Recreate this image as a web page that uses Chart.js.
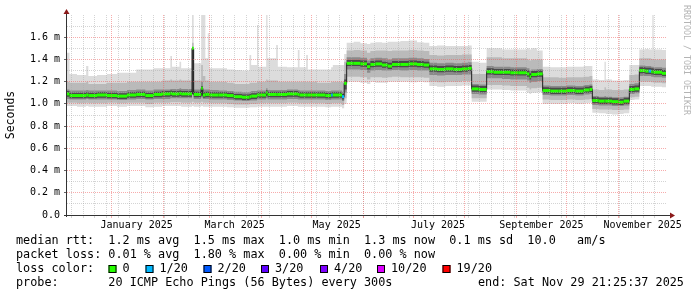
<!DOCTYPE html>
<html>
<head>
<meta charset="utf-8">
<title>SmokePing – last 360 days</title>
<script src="https://cdn.jsdelivr.net/npm/chart.js@4.4.1/dist/chart.umd.min.js"></script>
<style>
  html, body { margin: 0; padding: 0; background: #fff; }
  #wrap { width: 697px; height: 297px; }
</style>
</head>
<body>
<div id="wrap"><canvas id="chart" width="697" height="297"></canvas></div>
<script>
// ============================================
// Values
// x = days since the left edge of the plot, y = round trip in ms
// ============================================

// start of each step; each value holds until the next start (last one until END_DAY)
const days = [0, 1.5, 6, 11.5, 12.8, 18, 24, 30, 36, 41.5,
  47, 52, 57, 62, 63, 67.5, 68.5, 75, 76, 80.5,
  81.5, 83, 84.5, 85.5, 91, 96, 100, 105, 109.5, 110.5,
  114, 114.8, 119.5, 120.3, 125.5, 126.5, 132, 138.5, 139.5, 143.5,
  144.5, 150, 155, 158.5, 159.5, 165, 166.3, 167.8, 172, 176,
  180, 182, 185, 189, 192.4, 195, 200, 205, 210, 214,
  217.4, 222, 227, 232, 237, 240.5, 242.8, 247, 251.8, 256,
  261, 266, 271, 276, 277.5, 278.5, 282, 285.4, 290, 295,
  300, 305, 310, 313.5, 315.2, 319, 322.5, 323.3, 327, 331,
  334, 337.4, 340.5, 343.4, 347, 349, 350.5, 351.2, 352, 357];
const END_DAY = 359.4;

const median = [1.09, 1.075, 1.075, 1.08, 1.075, 1.08, 1.075, 1.07, 1.08, 1.085,
  1.075, 1.085, 1.09, 1.095, 1.09, 1.095, 1.09, 1.50, 1.085, 1.14,
  1.08, 1.085, 1.085, 1.08, 1.08, 1.075, 1.065, 1.06, 1.065, 1.07,
  1.08, 1.08, 1.10, 1.085, 1.085, 1.085, 1.09, 1.085, 1.08, 1.08,
  1.08, 1.08, 1.075, 1.08, 1.08, 1.065, 1.185, 1.365, 1.365, 1.36,
  1.335, 1.355, 1.36, 1.35, 1.34, 1.355, 1.355, 1.36, 1.355, 1.35,
  1.315, 1.31, 1.315, 1.31, 1.315, 1.32, 1.135, 1.13, 1.29, 1.285,
  1.285, 1.28, 1.28, 1.27, 1.245, 1.265, 1.27, 1.12, 1.115, 1.115,
  1.12, 1.115, 1.125, 1.13, 1.03, 1.025, 1.025, 1.025, 1.02, 1.015,
  1.025, 1.13, 1.135, 1.30, 1.295, 1.295, 1.29, 1.29, 1.285, 1.275];

// lost pings (out of 20) per step
const lossCount = [0, 0, 0, 0, 0, 0, 0, 0, 0, 0,
  0, 0, 0, 0, 0, 0, 0, 0, 0, 0,
  0, 0, 0, 0, 0, 0, 0, 0, 0, 0,
  0, 0, 0, 0, 0, 0, 0, 0, 0, 0,
  0, 0, 0, 1, 0, 1, 0, 0, 0, 0,
  0, 0, 0, 0, 0, 0, 0, 0, 0, 0,
  0, 0, 0, 0, 0, 0, 0, 0, 0, 0,
  0, 0, 0, 0, 0, 0, 0, 0, 0, 0,
  0, 0, 0, 0, 0, 0, 0, 0, 0, 0,
  0, 0, 0, 0, 0, 1, 0, 0, 0, 0];

// smoke: outer (1) to core (4) ping spread around the median
const smokeLo1 = [0.98, 0.98, 0.975, 0.98, 0.975, 0.975, 0.98, 0.975, 0.98, 0.98,
  0.97, 0.975, 0.98, 0.98, 0.98, 0.98, 0.975, 0.98, 0.975, 0.98,
  0.975, 0.975, 0.975, 0.975, 0.975, 0.97, 0.965, 0.965, 0.97, 0.97,
  0.975, 0.975, 0.975, 0.975, 0.975, 0.975, 0.98, 0.975, 0.975, 0.975,
  0.975, 0.975, 0.97, 0.975, 0.975, 0.96, 1.0, 1.2, 1.2, 1.19,
  1.18, 1.2, 1.19, 1.19, 1.2, 1.2, 1.2, 1.195, 1.2, 1.195,
  1.16, 1.155, 1.16, 1.16, 1.165, 1.165, 1.02, 1.02, 1.13, 1.13,
  1.125, 1.12, 1.12, 1.1, 1.09, 1.1, 1.105, 1.0, 1.0, 1.0,
  1.005, 1.0, 1.005, 1.01, 0.92, 0.915, 0.915, 0.91, 0.905, 0.91,
  0.915, 1.035, 1.04, 1.16, 1.16, 1.16, 1.155, 1.155, 1.155, 1.15];
const smokeLo2 = [1.01, 1.01, 1.005, 1.01, 1.005, 1.005, 1.01, 1.005, 1.01, 1.01,
  1.0, 1.01, 1.01, 1.015, 1.015, 1.015, 1.01, 1.02, 1.01, 1.02,
  1.01, 1.01, 1.01, 1.005, 1.005, 1.0, 0.995, 0.995, 1.0, 1.0,
  1.005, 1.005, 1.01, 1.005, 1.005, 1.005, 1.01, 1.005, 1.005, 1.005,
  1.005, 1.005, 1.0, 1.005, 1.005, 0.99, 1.05, 1.245, 1.245, 1.24,
  1.22, 1.24, 1.24, 1.235, 1.24, 1.245, 1.24, 1.24, 1.24, 1.235,
  1.2, 1.195, 1.2, 1.2, 1.205, 1.205, 1.05, 1.05, 1.17, 1.17,
  1.165, 1.16, 1.16, 1.145, 1.13, 1.14, 1.145, 1.04, 1.035, 1.035,
  1.04, 1.035, 1.04, 1.045, 0.955, 0.95, 0.95, 0.95, 0.945, 0.945,
  0.95, 1.06, 1.065, 1.2, 1.2, 1.2, 1.195, 1.195, 1.19, 1.185];
const smokeLo3 = [1.045, 1.04, 1.04, 1.045, 1.04, 1.04, 1.04, 1.035, 1.04, 1.045,
  1.04, 1.045, 1.045, 1.05, 1.05, 1.05, 1.05, 1.08, 1.045, 1.06,
  1.045, 1.045, 1.045, 1.04, 1.04, 1.035, 1.03, 1.025, 1.03, 1.03,
  1.04, 1.04, 1.05, 1.04, 1.04, 1.04, 1.045, 1.04, 1.04, 1.04,
  1.04, 1.04, 1.035, 1.04, 1.04, 1.025, 1.1, 1.31, 1.31, 1.305,
  1.28, 1.3, 1.305, 1.3, 1.3, 1.305, 1.3, 1.305, 1.3, 1.3,
  1.26, 1.255, 1.26, 1.26, 1.265, 1.265, 1.09, 1.085, 1.23, 1.23,
  1.225, 1.22, 1.22, 1.21, 1.19, 1.2, 1.205, 1.08, 1.075, 1.075,
  1.08, 1.075, 1.085, 1.09, 0.99, 0.985, 0.985, 0.985, 0.98, 0.98,
  0.985, 1.09, 1.095, 1.25, 1.25, 1.25, 1.245, 1.245, 1.24, 1.235];
const smokeLo4 = [1.065, 1.05, 1.05, 1.055, 1.05, 1.055, 1.05, 1.045, 1.055, 1.06,
  1.05, 1.06, 1.065, 1.07, 1.065, 1.07, 1.065, 1.09, 1.06, 1.07,
  1.055, 1.06, 1.06, 1.055, 1.055, 1.05, 1.04, 1.035, 1.04, 1.045,
  1.055, 1.055, 1.07, 1.06, 1.06, 1.06, 1.065, 1.06, 1.055, 1.055,
  1.055, 1.055, 1.05, 1.055, 1.055, 1.04, 1.13, 1.34, 1.34, 1.335,
  1.31, 1.33, 1.335, 1.325, 1.315, 1.33, 1.33, 1.335, 1.33, 1.325,
  1.29, 1.285, 1.29, 1.285, 1.29, 1.295, 1.11, 1.105, 1.265, 1.26,
  1.26, 1.255, 1.255, 1.245, 1.22, 1.24, 1.245, 1.095, 1.09, 1.09,
  1.095, 1.09, 1.1, 1.105, 1.005, 1.0, 1.0, 1.0, 0.995, 0.99,
  1.0, 1.105, 1.11, 1.275, 1.27, 1.27, 1.265, 1.265, 1.26, 1.25];
const smokeHi4 = [1.115, 1.1, 1.1, 1.105, 1.1, 1.105, 1.1, 1.095, 1.105, 1.11,
  1.1, 1.11, 1.115, 1.12, 1.115, 1.12, 1.115, 1.5, 1.11, 1.16,
  1.105, 1.11, 1.11, 1.105, 1.105, 1.1, 1.09, 1.085, 1.09, 1.095,
  1.105, 1.105, 1.125, 1.11, 1.11, 1.11, 1.115, 1.11, 1.105, 1.105,
  1.105, 1.105, 1.1, 1.105, 1.105, 1.09, 1.22, 1.395, 1.395, 1.39,
  1.365, 1.385, 1.39, 1.38, 1.37, 1.385, 1.385, 1.39, 1.385, 1.38,
  1.345, 1.34, 1.345, 1.34, 1.345, 1.35, 1.165, 1.16, 1.32, 1.315,
  1.315, 1.31, 1.31, 1.3, 1.275, 1.295, 1.3, 1.15, 1.145, 1.145,
  1.15, 1.145, 1.155, 1.16, 1.06, 1.055, 1.055, 1.055, 1.05, 1.045,
  1.055, 1.16, 1.165, 1.33, 1.325, 1.325, 1.32, 1.32, 1.315, 1.305];
const smokeHi3 = [1.13, 1.12, 1.12, 1.125, 1.12, 1.12, 1.12, 1.115, 1.125, 1.13,
  1.12, 1.13, 1.13, 1.135, 1.135, 1.14, 1.135, 1.45, 1.13, 1.2,
  1.13, 1.13, 1.13, 1.125, 1.12, 1.115, 1.11, 1.105, 1.11, 1.115,
  1.12, 1.12, 1.14, 1.125, 1.125, 1.125, 1.13, 1.125, 1.12, 1.12,
  1.12, 1.12, 1.115, 1.12, 1.12, 1.11, 1.27, 1.42, 1.42, 1.415,
  1.39, 1.41, 1.415, 1.41, 1.4, 1.41, 1.41, 1.415, 1.41, 1.405,
  1.37, 1.365, 1.37, 1.365, 1.37, 1.375, 1.18, 1.175, 1.34, 1.335,
  1.335, 1.33, 1.33, 1.32, 1.3, 1.31, 1.315, 1.165, 1.16, 1.16,
  1.165, 1.16, 1.17, 1.175, 1.07, 1.065, 1.07, 1.065, 1.06, 1.06,
  1.065, 1.18, 1.185, 1.345, 1.34, 1.34, 1.335, 1.335, 1.33, 1.325];
const smokeHi2 = [1.2, 1.19, 1.19, 1.2, 1.18, 1.18, 1.19, 1.19, 1.2, 1.2,
  1.2, 1.2, 1.21, 1.22, 1.21, 1.22, 1.21, 1.55, 1.21, 1.35,
  1.25, 1.21, 1.21, 1.2, 1.2, 1.19, 1.18, 1.18, 1.19, 1.19,
  1.2, 1.2, 1.22, 1.21, 1.21, 1.2, 1.2, 1.2, 1.2, 1.2,
  1.2, 1.19, 1.19, 1.2, 1.2, 1.2, 1.38, 1.48, 1.485, 1.48,
  1.46, 1.475, 1.48, 1.48, 1.475, 1.48, 1.48, 1.485, 1.48, 1.475,
  1.44, 1.435, 1.44, 1.44, 1.445, 1.445, 1.27, 1.27, 1.42, 1.42,
  1.41, 1.41, 1.41, 1.4, 1.39, 1.4, 1.4, 1.24, 1.24, 1.235,
  1.24, 1.24, 1.245, 1.25, 1.13, 1.125, 1.15, 1.13, 1.125, 1.125,
  1.13, 1.26, 1.265, 1.41, 1.41, 1.41, 1.405, 1.405, 1.4, 1.4];
const smokeHi1 = [1.46, 1.27, 1.26, 1.34, 1.25, 1.26, 1.27, 1.28, 1.28, 1.31,
  1.31, 1.32, 1.32, 1.43, 1.335, 1.38, 1.32, 1.8, 1.365, 1.8,
  1.8, 1.41, 1.635, 1.32, 1.32, 1.31, 1.305, 1.3, 1.44, 1.35,
  1.71, 1.335, 1.8, 1.41, 1.53, 1.335, 1.33, 1.485, 1.33, 1.44,
  1.31, 1.31, 1.31, 1.33, 1.35, 1.35, 1.45, 1.55, 1.56, 1.545,
  1.54, 1.55, 1.555, 1.55, 1.56, 1.56, 1.565, 1.57, 1.555, 1.55,
  1.52, 1.525, 1.52, 1.52, 1.52, 1.525, 1.38, 1.37, 1.5, 1.5,
  1.49, 1.49, 1.49, 1.5, 1.49, 1.5, 1.48, 1.335, 1.33, 1.33,
  1.335, 1.335, 1.34, 1.34, 1.22, 1.215, 1.38, 1.22, 1.21, 1.21,
  1.215, 1.35, 1.35, 1.49, 1.495, 1.49, 1.49, 1.8, 1.49, 1.485];

// axis ticks
const monthStarts = [26.6, 57.6, 85.6, 116.6, 146.6, 177.6, 207.6, 238.6, 269.6, 299.6, 330.6];
const firstWeekLine = 2.6;
const labelDays = [41.8, 100.6, 161.8, 222.6, 284.6, 345.4];
const monthLabels = ['January 2025', 'March 2025', 'May 2025', 'July 2025', 'September 2025', 'November 2025'];
const yTicks = [0, 0.1, 0.2, 0.3, 0.4, 0.5, 0.6, 0.7, 0.8, 0.9, 1.0, 1.1, 1.2, 1.3, 1.4, 1.5, 1.6, 1.7];

// loss colour legend
const lossLevels = [0, 1, 2, 3, 4, 10, 19];
const lossLabels = ['0', '1/20', '2/20', '3/20', '4/20', '10/20', '19/20'];
const lossColors = ['#26ff00', '#00b8ff', '#0059ff', '#5e00ff', '#7e00ff', '#dd00ff', '#ff0000'];

const legendRtt = 'median rtt:  1.2 ms avg  1.5 ms max  1.0 ms min  1.3 ms now  0.1 ms sd  10.0   am/s';
const legendLoss = 'packet loss: 0.01 % avg  1.80 % max  0.00 % min  0.00 % now';
const legendProbe = 'probe:       20 ICMP Echo Pings (56 Bytes) every 300s';
const legendEnd = 'end: Sat Nov 29 21:25:37 2025';

// ============================================
// Helpers
// ============================================

const MONO = '"DejaVu Sans Mono", "Liberation Mono", monospace';
const GRID_MINOR = 'rgba(170,170,170,0.5)';
const GRID_MAJOR = 'rgba(240,90,90,0.5)';

function stepSeries(values) {
  const pts = days.map((d, i) => ({ x: d, y: values[i] }));
  pts.push({ x: END_DAY, y: values[values.length - 1] });
  return pts;
}

function lossColor(n) {
  let c = lossColors[0];
  lossLevels.forEach((lv, k) => { if (n >= lv) c = lossColors[k]; });
  return c;
}

// one flat dash per step, so the colour can follow the loss of that step
const medianDashes = [];
days.forEach((d, i) => {
  const next = i + 1 < days.length ? days[i + 1] : END_DAY;
  medianDashes.push({ x: d, y: median[i] }, { x: next, y: median[i] }, { x: next, y: null });
});

function xTickObjects() {
  const ticks = [];
  for (let d = firstWeekLine; d < END_DAY; d += 7) ticks.push({ value: d, kind: 'week' });
  monthStarts.forEach(d => ticks.push({ value: d, kind: 'month' }));
  labelDays.forEach((d, i) => ticks.push({ value: d, kind: 'label', text: monthLabels[i] }));
  return ticks.sort((a, b) => a.value - b.value);
}

const isMajorY = v => Math.round(v * 10) % 2 === 0;

function bandPair(lo, hi, color, order) {
  const line = { pointRadius: 0, borderWidth: 1, borderColor: 'rgba(0,0,0,0)', stepped: 'before', order };
  return [
    { ...line, data: stepSeries(lo), fill: false },
    { ...line, data: stepSeries(hi), fill: '-1', backgroundColor: color }
  ];
}

// axes, arrows, watermark and the text legend underneath
const rrdDecor = {
  id: 'rrdDecor',
  afterDraw(chart) {
    const ctx = chart.ctx;
    const { left, right, top, bottom } = chart.chartArea;
    ctx.save();

    ctx.strokeStyle = '#333';
    ctx.lineWidth = 1;
    ctx.beginPath();
    ctx.moveTo(left - 0.5, bottom + 2);
    ctx.lineTo(left - 0.5, top - 1);
    ctx.moveTo(left - 3, bottom + 0.5);
    ctx.lineTo(right + 3, bottom + 0.5);
    ctx.stroke();

    ctx.fillStyle = '#8b1a1a';
    ctx.beginPath();
    ctx.moveTo(left - 0.5, top - 6);
    ctx.lineTo(left - 3.5, top - 1);
    ctx.lineTo(left + 2.5, top - 1);
    ctx.closePath();
    ctx.fill();
    ctx.beginPath();
    ctx.moveTo(right + 8, bottom + 0.5);
    ctx.lineTo(right + 3, bottom - 2.5);
    ctx.lineTo(right + 3, bottom + 3.5);
    ctx.closePath();
    ctx.fill();

    // watermark
    ctx.save();
    ctx.translate(686, 5);
    ctx.rotate(Math.PI / 2);
    ctx.font = '8.3px ' + MONO;
    ctx.fillStyle = '#b4b4b4';
    ctx.textBaseline = 'middle';
    ctx.fillText('RRDTOOL / TOBI OETIKER', 0, 0);
    ctx.restore();

    // legend
    ctx.font = '11.8px ' + MONO;
    ctx.fillStyle = '#000';
    ctx.textBaseline = 'middle';
    ctx.fillText(legendRtt, 16, 241);
    ctx.fillText(legendLoss, 16, 255);
    ctx.fillText('loss color:', 16, 269);
    const boxX = [108.5, 145.5, 203.5, 261, 320, 377, 442.5];
    lossLabels.forEach((lab, i) => {
      ctx.fillStyle = lossColors[i];
      ctx.fillRect(boxX[i], 265, 8, 8);
      ctx.strokeStyle = '#000';
      ctx.strokeRect(boxX[i] + 0.5, 265.5, 7, 7);
      ctx.fillStyle = '#000';
      ctx.fillText(lab, boxX[i] + 14, 269);
    });
    ctx.fillText(legendProbe, 16, 283);
    ctx.fillText(legendEnd, 478, 283);

    ctx.restore();
  }
};

// ============================================
// Chart
// ============================================

new Chart(document.getElementById('chart'), {
  type: 'line',
  data: {
    datasets: [
      ...bandPair(smokeLo1, smokeHi1, '#dcdcdc', 7),
      ...bandPair(smokeLo2, smokeHi2, '#bababa', 6),
      ...bandPair(smokeLo3, smokeHi3, '#8a8a8a', 5),
      ...bandPair(smokeLo4, smokeHi4, '#4a4a4a', 4),
      {
        data: stepSeries(median), stepped: 'before', pointRadius: 0,
        borderWidth: 1, borderColor: '#202020', fill: false, order: 2
      },
      {
        data: medianDashes, pointRadius: 0, borderWidth: 3, borderCapStyle: 'butt',
        spanGaps: false, fill: false, order: 1,
        borderColor: lossColors[0],
        segment: { borderColor: c => lossColor(lossCount[Math.floor(c.p0DataIndex / 3)]) }
      }
    ]
  },
  options: {
    responsive: false,
    animation: false,
    devicePixelRatio: 1,
    layout: { padding: { left: 0, top: 15, right: 30, bottom: 62 } },
    plugins: { legend: { display: false }, tooltip: { enabled: false } },
    elements: { line: { tension: 0 } },
    scales: {
      x: {
        type: 'linear', min: 0, max: 360,
        afterFit: s => { s.height = 20; },
        afterBuildTicks: s => { s.ticks = xTickObjects(); },
        grid: {
          z: 1, lineWidth: 1, tickLength: 3,
          color: c => c.tick.kind === 'month' ? GRID_MAJOR : c.tick.kind === 'week' ? GRID_MINOR : 'rgba(0,0,0,0)',
          tickColor: c => c.tick.kind === 'month' ? GRID_MAJOR : c.tick.kind === 'week' ? GRID_MINOR : 'rgba(0,0,0,0)'
        },
        border: { display: false, dash: [1, 1] },
        ticks: {
          autoSkip: false, maxRotation: 0, minRotation: 0, padding: 1,
          color: '#000', font: { family: MONO, size: 10 },
          callback: function (v, i, ticks) { return ticks[i].kind === 'label' ? ticks[i].text : ''; }
        }
      },
      y: {
        min: 0, max: 1.8,
        afterFit: s => { s.width = 67; },
        afterBuildTicks: s => { s.ticks = yTicks.map(v => ({ value: v })); },
        grid: {
          z: 1, lineWidth: 1, tickLength: 3,
          color: c => c.tick.value === 0 ? 'rgba(0,0,0,0)' : isMajorY(c.tick.value) ? GRID_MAJOR : GRID_MINOR,
          tickColor: c => isMajorY(c.tick.value) ? '#666' : 'rgba(0,0,0,0)'
        },
        border: { display: false, dash: [1, 1] },
        ticks: {
          autoSkip: false, padding: 4, color: '#000', font: { family: MONO, size: 10 },
          callback: v => isMajorY(v) ? (v === 0 ? '0.0' : v.toFixed(1) + ' m') : ''
        },
        title: {
          display: true, text: 'Seconds', color: '#000',
          font: { family: MONO, size: 11.5 }, padding: { top: 4, bottom: 0 }
        }
      }
    }
  },
  plugins: [rrdDecor]
});
</script>
</body>
</html>
